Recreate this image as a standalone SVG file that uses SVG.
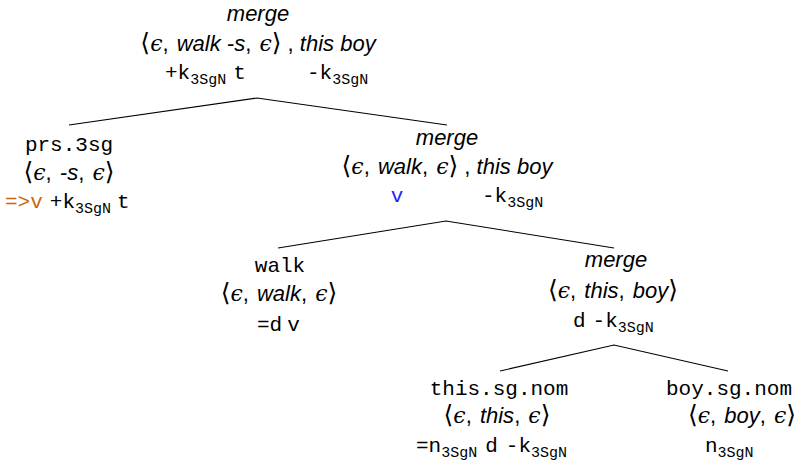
<svg xmlns="http://www.w3.org/2000/svg" width="795" height="462" viewBox="0 0 795 462">
<style>
.sf{font-family:"Liberation Sans",sans-serif;font-size:22px;fill:#000}
.it{font-style:italic}
.tt{font-family:"Liberation Mono",monospace;font-size:21px;fill:#000}
.m{font-family:"DejaVu Serif",serif;font-size:25px;font-style:normal}
.me{font-family:"DejaVu Serif",serif;font-size:22px;font-style:italic}
.sub{font-size:15px}
.mid{text-anchor:middle}
.edge{stroke:#000;stroke-width:1.1;fill:none}
</style>
<rect width="795" height="462" fill="#fff"/>
<g id="connectors">
<path class="edge" d="M69,125 L257,98 L447,125"/>
<path class="edge" d="M278,248 L446,221 L614,248"/>
<path class="edge" d="M500,371 L614,345 L728,371"/>
</g>
<g id="node-root">
<text class="sf it mid" x="258" y="21">merge</text>
<text class="sf mid" x="258" y="51"><tspan class="m">⟨</tspan><tspan class="me">ϵ</tspan>, <tspan class="it" dx="2">walk -s</tspan>, <tspan class="me" dx="2">ϵ</tspan><tspan class="m">⟩</tspan> , <tspan class="it">this boy</tspan></text>
<text class="tt" x="165" y="79">+k<tspan class="sub" dy="5">3SgN</tspan><tspan dy="-5" dx="7">t</tspan></text>
<text class="tt" x="307" y="79">-k<tspan class="sub" dy="5">3SgN</tspan></text>
</g>
<g id="node-prs">
<text class="tt mid" x="69" y="151">prs.3sg</text>
<text class="sf mid" x="69" y="180"><tspan class="m">⟨</tspan><tspan class="me">ϵ</tspan>, <tspan class="it" dx="2">-s</tspan>, <tspan class="me" dx="2">ϵ</tspan><tspan class="m">⟩</tspan></text>
<text class="tt" x="5" y="208"><tspan style="fill:#c8690f">=&gt;v</tspan><tspan dx="7">+k</tspan><tspan class="sub" dy="5">3SgN</tspan><tspan dy="-5" dx="6">t</tspan></text>
</g>
<g id="node-merge2">
<text class="sf it mid" x="447" y="145">merge</text>
<text class="sf mid" x="447" y="174"><tspan class="m">⟨</tspan><tspan class="me">ϵ</tspan>, <tspan class="it" dx="2">walk</tspan>, <tspan class="me" dx="2">ϵ</tspan><tspan class="m">⟩</tspan> , <tspan class="it">this boy</tspan></text>
<text class="tt mid" x="397" y="202" style="fill:#1f1fff">v</text>
<text class="tt" x="482" y="202">-k<tspan class="sub" dy="5">3SgN</tspan></text>
</g>
<g id="node-walk">
<text class="tt mid" x="280" y="272">walk</text>
<text class="sf mid" x="279" y="301"><tspan class="m">⟨</tspan><tspan class="me">ϵ</tspan>, <tspan class="it" dx="2">walk</tspan>, <tspan class="me" dx="2">ϵ</tspan><tspan class="m">⟩</tspan></text>
<text class="tt" x="257" y="331">=d<tspan dx="5">v</tspan></text>
</g>
<g id="node-merge3">
<text class="sf it mid" x="616" y="267">merge</text>
<text class="sf mid" x="613" y="298"><tspan class="m">⟨</tspan><tspan class="me">ϵ</tspan>, <tspan class="it" dx="2">this</tspan>, <tspan class="it" dx="2">boy</tspan><tspan class="m">⟩</tspan></text>
<text class="tt" x="573" y="327">d<tspan dx="7">-k</tspan><tspan class="sub" dy="5">3SgN</tspan></text>
</g>
<g id="node-this">
<text class="tt mid" x="499" y="395">this.sg.nom</text>
<text class="sf mid" x="497" y="423"><tspan class="m">⟨</tspan><tspan class="me">ϵ</tspan>, <tspan class="it" dx="2">this</tspan>, <tspan class="me" dx="2">ϵ</tspan><tspan class="m">⟩</tspan></text>
<text class="tt" x="416" y="452">=n<tspan class="sub" dy="5">3SgN</tspan><tspan dy="-5" dx="8">d</tspan><tspan dx="8">-k</tspan><tspan class="sub" dy="5">3SgN</tspan></text>
</g>
<g id="node-boy">
<text class="tt mid" x="729" y="395">boy.sg.nom</text>
<text class="sf mid" x="742" y="423"><tspan class="m">⟨</tspan><tspan class="me">ϵ</tspan>, <tspan class="it" dx="2">boy</tspan>, <tspan class="me" dx="2">ϵ</tspan><tspan class="m">⟩</tspan></text>
<text class="tt" x="705" y="452">n<tspan class="sub" dy="5">3SgN</tspan></text>
</g>
</svg>
